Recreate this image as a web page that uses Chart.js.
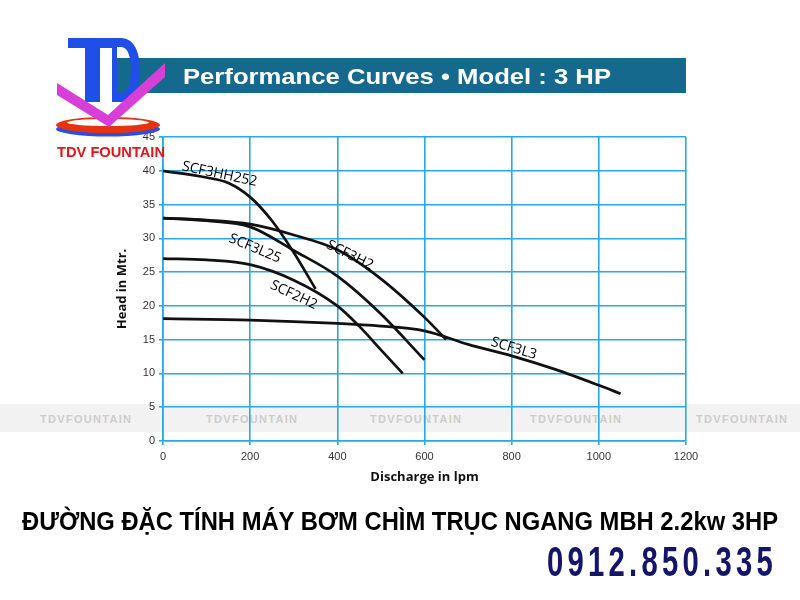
<!DOCTYPE html>
<html>
<head>
<meta charset="utf-8">
<title>Performance Curves - Model 3 HP</title>
<script src="https://cdn.jsdelivr.net/npm/chart.js@4.4.0/dist/chart.umd.min.js"></script>
<style>
  body { margin: 0; background: #fff; }
  #page { position: relative; width: 800px; height: 600px; overflow: hidden; }
  #band { position: absolute; left: 0; top: 404px; width: 800px; height: 28px; background: #f2f2f2; }
  .wm { position: absolute; top: 413px; font: bold 11px "Liberation Sans", Arial, sans-serif; color: #cdcdcd; letter-spacing: 1.3px; }
  #chart { position: absolute; left: 0; top: 0; }
  #overlay { position: absolute; left: 0; top: 0; pointer-events: none; }
</style>
</head>
<body>
<div id="page">
  <div id="band"></div>
  <div class="wm" style="left:40px">TDVFOUNTAIN</div>
  <div class="wm" style="left:206px">TDVFOUNTAIN</div>
  <div class="wm" style="left:370px">TDVFOUNTAIN</div>
  <div class="wm" style="left:530px">TDVFOUNTAIN</div>
  <div class="wm" style="left:696px">TDVFOUNTAIN</div>

  <canvas id="chart" width="800" height="600"></canvas>

  <svg id="overlay" width="800" height="600" xmlns="http://www.w3.org/2000/svg">
    <!-- title banner -->
    <rect x="113" y="58" width="573" height="35" fill="#15698d"/>
    <text x="183" y="84" fill="#fff" font-family="Liberation Sans, Arial, sans-serif" font-weight="bold" font-size="22"
          textLength="428" lengthAdjust="spacingAndGlyphs">Performance Curves • Model : 3 HP</text>

    <!-- logo -->
    <rect x="68" y="38" width="46" height="10" fill="#1f4fe6"/>
    <rect x="85" y="38" width="15" height="64" fill="#1f4fe6"/>
    <path fill="#1f4fe6" fill-rule="evenodd"
          d="M112 38 L121 38 C134 38 140 52 140 70 C140 88 134 102 121 102 L112 102 Z
             M117 47 L121 47 C128 47 131 57 131 70 C131 83 128 93 121 93 L117 93 Z"/>
    <ellipse cx="108" cy="129" rx="52" ry="7.5" fill="#2a4fe0"/>
    <ellipse cx="108" cy="125" rx="52" ry="8" fill="#e5330f"/>
    <ellipse cx="108" cy="122.5" rx="41" ry="3.5" fill="#fff"/>
    <polygon points="57,83 108,115 165,63 165,77 109,127 57,95" fill="#d83fd8"/>
    <text x="57" y="157" fill="#e3141b" font-family="Liberation Sans, Arial, sans-serif" font-weight="bold" font-size="14"
          textLength="108" lengthAdjust="spacingAndGlyphs">TDV FOUNTAIN</text>

    <!-- bottom texts -->
    <text x="22" y="530" fill="#000" font-family="Liberation Sans, Arial, sans-serif" font-weight="bold" font-size="26"
          textLength="756" lengthAdjust="spacingAndGlyphs">ĐƯỜNG ĐẶC TÍNH MÁY BƠM CHÌM TRỤC NGANG MBH 2.2kw 3HP</text>
    <text transform="translate(547 576) scale(0.68 1)" x="0" y="0" fill="#14146a"
          font-family="Liberation Sans, Arial, sans-serif" font-weight="bold" font-size="43"
          textLength="332" lengthAdjust="spacing">0912.850.335</text>
  </svg>
</div>

<script>
// discharge (lpm) and head (m), one pair of arrays per pump
const hh252Lpm = [0, 100, 150, 200, 250, 300, 350];
const hh252Head = [40, 39, 38.2, 36.1, 32.6, 27.9, 22.5];

const h2Lpm = [0, 100, 200, 300, 400, 500, 600, 650];
const h2Head = [33, 32.7, 32.1, 30.5, 28.3, 24.0, 18.3, 15];

const l25Lpm = [0, 100, 200, 300, 400, 500, 600];
const l25Head = [33, 32.6, 31.7, 28.2, 24.4, 18.8, 12];

const f2h2Lpm = [0, 100, 200, 300, 400, 450, 500, 550];
const f2h2Head = [27, 26.8, 26.1, 23.8, 20.0, 17.0, 13.5, 10];

const l3Lpm = [0, 200, 400, 500, 600, 700, 800, 900, 1000, 1050];
const l3Head = [18.1, 17.9, 17.4, 17.0, 16.3, 14.3, 12.6, 10.6, 8.25, 7];

const xTicks = [0, 200, 400, 600, 800, 1000, 1200];
const yTicks = [0, 5, 10, 15, 20, 25, 30, 35, 40, 45];

const seriesNames = ["SCF3HH252", "SCF3H2", "SCF3L25", "SCF2H2", "SCF3L3"];

const gridBlue = "#29a8e1";

function toPoints(xs, ys) {
  return xs.map((x, i) => ({ x: x, y: ys[i] }));
}

// where each curve's name sits (data coords) and how much it is turned
const curveLabels = [
  { text: "SCF3HH252", x: 130, y: 39.5, angle: 12 },
  { text: "SCF3H2", x: 429, y: 27.5, angle: 26 },
  { text: "SCF3L25", x: 211, y: 28.5, angle: 23 },
  { text: "SCF2H2", x: 300, y: 21.6, angle: 25 },
  { text: "SCF3L3", x: 805, y: 13.7, angle: 17 },
];

const curveLabelPlugin = {
  id: "curveLabels",
  afterDatasetsDraw(chart) {
    const ctx = chart.ctx;
    const xs = chart.scales.x;
    const ys = chart.scales.y;
    ctx.save();
    ctx.font = '14px "Open Sans", sans-serif';
    ctx.fillStyle = "#000";
    ctx.textAlign = "center";
    ctx.textBaseline = "middle";
    curveLabels.forEach((l) => {
      ctx.save();
      ctx.translate(xs.getPixelForValue(l.x), ys.getPixelForValue(l.y));
      ctx.rotate((l.angle * Math.PI) / 180);
      ctx.fillText(l.text, 0, 0);
      ctx.restore();
    });
    ctx.restore();
  },
};

const allLpm = [hh252Lpm, h2Lpm, l25Lpm, f2h2Lpm, l3Lpm];
const allHead = [hh252Head, h2Head, l25Head, f2h2Head, l3Head];

const ctx = document.getElementById("chart").getContext("2d");

new Chart(ctx, {
  type: "line",
  data: {
    datasets: seriesNames.map((name, i) => ({
      label: name,
      data: toPoints(allLpm[i], allHead[i]),
      borderColor: "#111",
      borderWidth: 2.7,
      pointRadius: 0,
      fill: false,
      cubicInterpolationMode: "monotone",
    })),
  },
  options: {
    responsive: false,
    animation: false,
    layout: { padding: { left: 110, top: 137, right: 114, bottom: 111 } },
    plugins: {
      legend: { display: false },
      tooltip: { enabled: false },
    },
    scales: {
      x: {
        type: "linear",
        min: 0,
        max: 1200,
        afterBuildTicks: (s) => { s.ticks = xTicks.map((v) => ({ value: v })); },
        ticks: {
          color: "#333",
          padding: 5,
          maxRotation: 0,
          font: { family: '"Liberation Sans", Arial', size: 11 },
          callback: (v) => String(v),
        },
        grid: { color: gridBlue, lineWidth: 1.6, tickLength: 4 },
        border: { color: gridBlue, width: 1.6 },
        title: {
          display: true,
          text: "Discharge in lpm",
          color: "#111",
          font: { family: '"Open Sans", sans-serif', size: 13, weight: "bold" },
        },
        afterFit: (s) => { s.height = 48; },
      },
      y: {
        type: "linear",
        min: 0,
        max: 45,
        afterBuildTicks: (s) => { s.ticks = yTicks.map((v) => ({ value: v })); },
        ticks: {
          color: "#333",
          padding: 4,
          font: { family: '"Liberation Sans", Arial', size: 11 },
          callback: (v) => String(v),
        },
        grid: { color: gridBlue, lineWidth: 1.6, tickLength: 4 },
        border: { color: gridBlue, width: 1.6 },
        title: {
          display: true,
          text: "Head in Mtr.",
          color: "#111",
          font: { family: '"Open Sans", sans-serif', size: 13, weight: "bold" },
        },
        afterFit: (s) => { s.width = 53; },
      },
    },
  },
  plugins: [curveLabelPlugin],
});
</script>
</body>
</html>
